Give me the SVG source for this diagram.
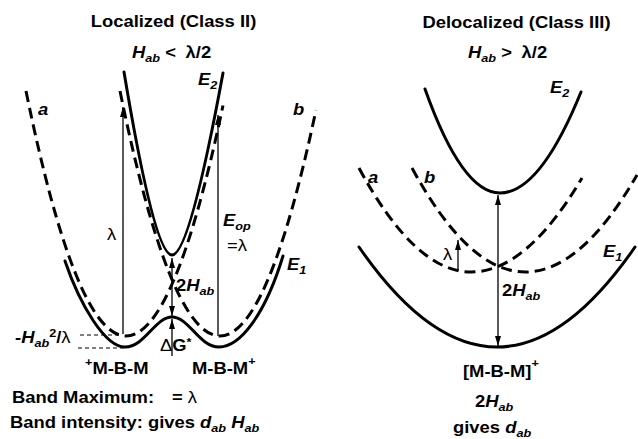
<svg xmlns="http://www.w3.org/2000/svg" width="638" height="439" viewBox="0 0 638 439">
<style>
  .t { font-family: "Liberation Sans", Arial, sans-serif; font-size: 16px; font-weight: bold; fill: #000; }
  .i { font-style: italic; }
  .s { font-size: 11px; }
  .n { font-weight: normal; }
  .solid { fill: none; stroke: #000; stroke-width: 3; stroke-linecap: round; }
  .dash { fill: none; stroke: #000; stroke-width: 3; stroke-dasharray: 11 6; }
  .arr { fill: none; stroke: #000; stroke-width: 1.3; }
  .lead { fill: none; stroke: #000; stroke-width: 1; stroke-dasharray: 4 3; }
</style>
<defs>
  <marker id="ah" viewBox="0 0 10 6" refX="10" refY="3" markerWidth="10" markerHeight="6" markerUnits="userSpaceOnUse" orient="auto-start-reverse">
    <path d="M0,0 L10,3 L0,6 z" fill="#000"/>
  </marker>
</defs>
<rect width="638" height="439" fill="#fff"/>

<!-- Left panel: Localized (Class II) -->
<g id="left-diabatic-a"><path class="dash" d="M26 91 Q124.5 573.65 223 105.5"/></g>
<g id="left-diabatic-b"><path class="dash" d="M120 91 Q218 571.2 316 110"/></g>
<g id="left-E2"><path class="solid" d="M124 72 Q154.5 255 172 255 Q189.5 255 223 73"/></g>
<g id="left-E1"><path class="solid" d="M65 261 C80 305 105 347 125 347 C145 347 155 317 172 317 C189 317 199 347 219 347 C240 347 265 315 283 256"/></g>

<g id="connectors">
  <line class="arr" x1="123" y1="334" x2="123" y2="107" marker-end="url(#ah)"/>
  <line class="arr" x1="218" y1="336" x2="218" y2="115" marker-end="url(#ah)"/>
  <line class="arr" x1="172" y1="258" x2="172" y2="316" marker-start="url(#ah)" marker-end="url(#ah)"/>
  <line class="arr" x1="172" y1="356" x2="172" y2="319" marker-end="url(#ah)"/>
  <line class="lead" x1="80" y1="335" x2="120" y2="335"/>
  <line class="lead" x1="78" y1="348" x2="124" y2="348"/>
  <line class="arr" x1="498" y1="195" x2="498" y2="346" marker-start="url(#ah)" marker-end="url(#ah)"/>
  <line class="arr" x1="458" y1="271" x2="458" y2="240" marker-end="url(#ah)"/>
</g>

<g id="left-labels">
  <text class="t" text-anchor="middle" transform="translate(173.5 27) scale(1.15 1)">Localized (Class II)</text>
  <text class="t" transform="translate(132 58) scale(1.15 1)"><tspan class="i">H</tspan><tspan class="i s" dy="4">ab</tspan><tspan dy="-4"> &lt; </tspan><tspan dx="4">λ/2</tspan></text>
  <text class="t i" transform="translate(198 85) scale(1.15 1)">E<tspan class="s" dy="4">2</tspan></text>
  <text class="t i" transform="translate(38 115) scale(1.15 1)">a</text>
  <text class="t i" transform="translate(293 115) scale(1.15 1)">b</text>
  <text class="t n" transform="translate(107 240) scale(1.15 1)">λ</text>
  <text class="t i" transform="translate(223 226) scale(1.15 1)">E<tspan class="s" dy="4">op</tspan></text>
  <text class="t n" transform="translate(227 251) scale(1.15 1)">=λ</text>
  <text class="t i" transform="translate(287 270) scale(1.15 1)">E<tspan class="s" dy="4">1</tspan></text>
  <text class="t" transform="translate(176 291) scale(1.15 1)">2<tspan class="i">H</tspan><tspan class="i s" dy="4">ab</tspan></text>
  <text class="t" transform="translate(160 351) scale(1.15 1)"><tspan class="n">Δ</tspan>G<tspan class="s" dy="-5">*</tspan></text>
  <text class="t" transform="translate(15 343) scale(1.15 1)">-<tspan class="i">H</tspan><tspan class="i s" dy="4">ab</tspan><tspan class="s" dy="-10">2</tspan><tspan dy="6">/</tspan><tspan class="n">λ</tspan></text>
  <text class="t" transform="translate(85 374) scale(1.15 1)"><tspan class="s" dy="-8">+</tspan><tspan dy="8">M-B-M</tspan></text>
  <text class="t" transform="translate(192 374) scale(1.15 1)">M-B-M<tspan class="s" dy="-9">+</tspan></text>
  <text class="t" transform="translate(12 403) scale(1.15 1)">Band Maximum:</text>
  <text class="t" transform="translate(172 403) scale(1.15 1)">= <tspan class="n">λ</tspan></text>
  <text class="t" transform="translate(10 428) scale(1.15 1)">Band intensity: gives <tspan class="i">d</tspan><tspan class="i s" dy="4">ab</tspan><tspan dy="-4"> </tspan><tspan class="i">H</tspan><tspan class="i s" dy="4">ab</tspan></text>
</g>

<!-- Right panel: Delocalized (Class III) -->
<g id="right-E2"><path class="solid" d="M425 89 Q462 193 500 193 Q540 193 581 92"/></g>
<g id="right-E1"><path class="solid" d="M359 247 Q497 447 635 247"/></g>
<g id="right-diabatic-a"><path class="dash" d="M359 168 Q415 272 471 272 Q526.5 272 582 178"/></g>
<g id="right-diabatic-b"><path class="dash" d="M412 168 Q468.5 272 525 272 Q581 272 637 175"/></g>

<g id="right-labels">
  <text class="t" text-anchor="middle" transform="translate(516.5 28) scale(1.15 1)">Delocalized (Class III)</text>
  <text class="t" transform="translate(468 58) scale(1.15 1)"><tspan class="i">H</tspan><tspan class="i s" dy="4">ab</tspan><tspan dy="-4"> &gt; </tspan><tspan dx="4">λ/2</tspan></text>
  <text class="t i" transform="translate(550 93) scale(1.15 1)">E<tspan class="s" dy="4">2</tspan></text>
  <text class="t i" transform="translate(368 183) scale(1.15 1)">a</text>
  <text class="t i" transform="translate(424 183) scale(1.15 1)">b</text>
  <text class="t n" transform="translate(443 260) scale(1.15 1)">λ</text>
  <text class="t i" transform="translate(603 257) scale(1.15 1)">E<tspan class="s" dy="4">1</tspan></text>
  <text class="t" transform="translate(502 296) scale(1.15 1)">2<tspan class="i">H</tspan><tspan class="i s" dy="4">ab</tspan></text>
  <text class="t" transform="translate(463 377) scale(1.15 1)">[M-B-M]<tspan class="s" dy="-10">+</tspan></text>
  <text class="t" transform="translate(475 407) scale(1.15 1)">2<tspan class="i">H</tspan><tspan class="i s" dy="4">ab</tspan></text>
  <text class="t" transform="translate(453 433) scale(1.15 1)">gives <tspan class="i">d</tspan><tspan class="i s" dy="4">ab</tspan></text>
</g>
</svg>
